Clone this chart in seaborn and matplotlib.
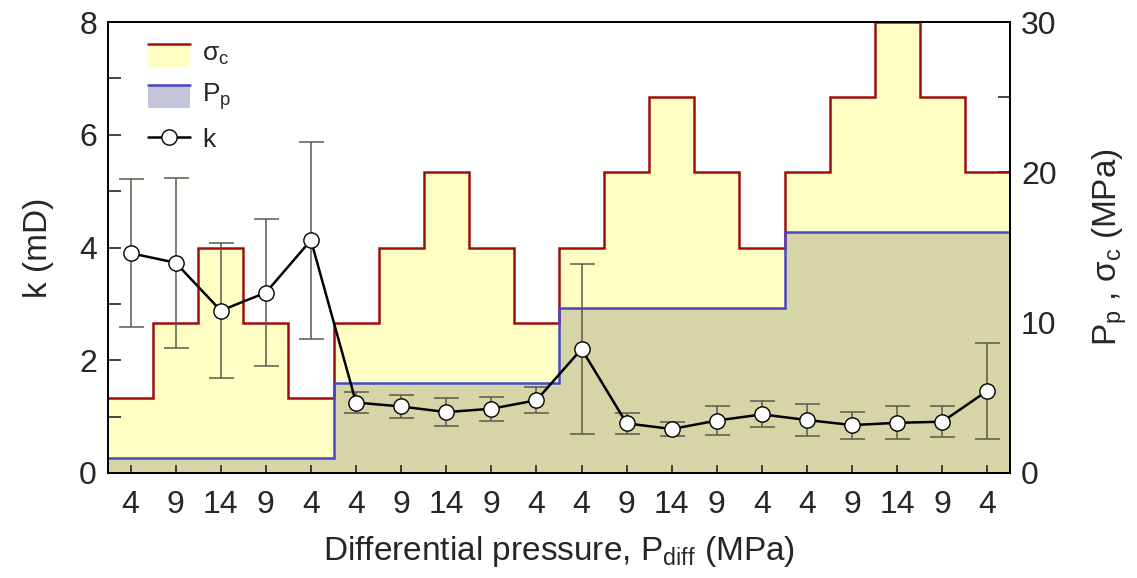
import numpy as np
import pandas as pd
import matplotlib
matplotlib.use("Agg")
import matplotlib.pyplot as plt
import seaborn as sns
from matplotlib.legend_handler import HandlerBase
from matplotlib.patches import Rectangle
from matplotlib.lines import Line2D

# ---- data ----
pdiff_labels = ["4", "9", "14", "9", "4"] * 4
pdiff = [4, 9, 14, 9, 4] * 4
pore_pressure = [1] * 5 + [6] * 5 + [11] * 5 + [16] * 5
confining = [5, 10, 15, 10, 5, 10, 15, 20, 15, 10, 15, 20, 25, 20, 15, 20, 25, 30, 25, 20]
k_mean = [3.90, 3.73, 2.88, 3.20, 4.13, 1.25, 1.18, 1.08, 1.14, 1.29,
          2.20, 0.88, 0.78, 0.93, 1.04, 0.94, 0.85, 0.89, 0.91, 1.46]
k_err = [1.31, 1.51, 1.20, 1.31, 1.75, 0.19, 0.21, 0.25, 0.21, 0.23,
         1.50, 0.19, 0.13, 0.26, 0.23, 0.28, 0.24, 0.29, 0.28, 0.85]

sns.set_theme(style="ticks")
plt.rcParams["font.family"] = ["Liberation Sans", "DejaVu Sans"]
plt.rcParams["mathtext.default"] = "regular"

YELLOW = "#FFFFC4"
OLIVE = "#D6D5A8"
LAVENDER = "#C4C4DA"
DARKRED = "#9E0E0E"
BLUE = "#4646C8"

fig = plt.figure(figsize=(11.37, 5.78), dpi=100)
ax = fig.add_axes([108 / 1137, 1 - 473 / 578, 902 / 1137, 451 / 578])
ax2 = ax.twinx()
ax.set_zorder(ax2.get_zorder() + 1)
ax.patch.set_visible(False)

n = len(pdiff)
xpos = np.arange(1, n + 1)
edges = np.arange(0.5, n + 1.0, 1.0)

# step fills on right axis
ax2.stairs(confining, edges, baseline=0, fill=True, color=YELLOW, zorder=1)
ax2.stairs(pore_pressure, edges, baseline=0, fill=True, color=OLIVE, zorder=2)
ax2.stairs(confining, edges, baseline=None, color=DARKRED, lw=1.8, zorder=3)
ax2.stairs(pore_pressure, edges, baseline=None, color=BLUE, lw=1.8, zorder=4)

df = pd.DataFrame({"x": xpos, "k": k_mean, "err": k_err})
ax.errorbar(df["x"], df["k"], yerr=df["err"], fmt="none", ecolor="#5a5a4a",
            elinewidth=1.1, capsize=9, capthick=1.1, zorder=3)
sns.lineplot(data=df, x="x", y="k", ax=ax, color="black", lw=1.8, marker="o",
             markersize=11, markerfacecolor="white", markeredgecolor="black",
             markeredgewidth=1.0, zorder=5)

ax.set_xlim(0.5, n + 0.5)
ax.set_ylim(0, 8)
ax2.set_ylim(0, 30)

ax.set_xticks(xpos)
ax.set_xticklabels(pdiff_labels, family=["Liberation Sans Narrow", "Liberation Sans"], fontsize=23)
ax.set_yticks(np.arange(0, 9, 1))
ax.set_yticklabels([str(v) if v % 2 == 0 else "" for v in range(0, 9)], fontsize=23)
ax2.set_yticks(np.arange(0, 31, 5))
ax2.set_yticklabels([str(v) if v % 10 == 0 else "" for v in range(0, 31, 5)], fontsize=23)

ax.tick_params(axis="x", direction="in", length=6, width=1.2, pad=12, top=False)
ax.tick_params(axis="y", direction="in", length=9, width=1.2, pad=8)
ax2.tick_params(axis="y", direction="in", length=9, width=1.2, pad=8)

for a in (ax, ax2):
    for s in a.spines.values():
        s.set_visible(True)
        s.set_linewidth(1.3)
        s.set_color("black")

ax.set_xlabel("Differential pressure, P$_{diff}$ (MPa)",
              family=["Liberation Sans Narrow", "Liberation Sans"], fontsize=24, labelpad=10)
ax.set_ylabel("k (mD)", fontsize=24, labelpad=18)
ax2.set_ylabel("P$_p$ , σ$_c$ (MPa)", fontsize=24, labelpad=24)


class StepHandler(HandlerBase):
    def __init__(self, fill, line):
        super().__init__()
        self.fill = fill
        self.line = line

    def create_artists(self, legend, orig_handle, xdescent, ydescent,
                       width, height, fontsize, trans):
        h = height * 1.0
        y0 = -ydescent - 0.15 * height
        rect = Rectangle((-xdescent, y0), width, h, facecolor=self.fill,
                         edgecolor="none", transform=trans)
        ln = Line2D([-xdescent, -xdescent + width], [y0 + h, y0 + h],
                    color=self.line, lw=1.8, transform=trans)
        return [rect, ln]


h_sig = Rectangle((0, 0), 1, 1)
h_pp = Line2D([], [])
h_k = Line2D([], [], color="black", lw=1.8, marker="o", markersize=11,
             markerfacecolor="white", markeredgecolor="black")
leg = ax.legend([h_sig, h_pp, h_k], ["σ$_c$", "P$_p$", "k"],
                handler_map={h_sig: StepHandler(YELLOW, DARKRED),
                             h_pp: StepHandler(LAVENDER, BLUE)},
                loc="upper left", bbox_to_anchor=(0.018, 1.012), frameon=False,
                fontsize=19, handlelength=1.6, handleheight=0.95,
                labelspacing=0.55, handletextpad=0.45)

fig.savefig("out.png", dpi=100)
